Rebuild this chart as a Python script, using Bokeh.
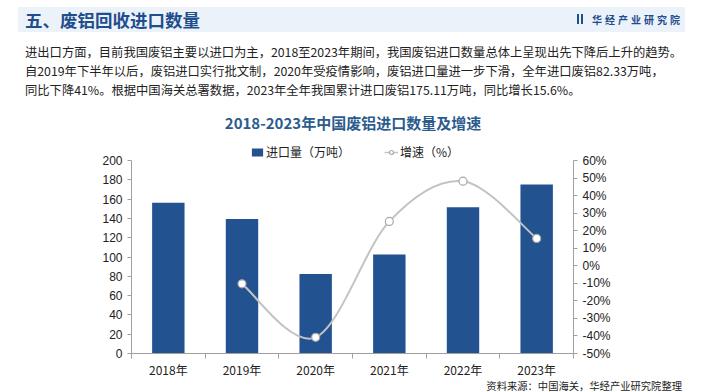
from bokeh.plotting import figure
from bokeh.layouts import column
from bokeh.models import Range1d, LinearAxis, FixedTicker, Legend, LegendItem, Div
from bokeh.embed import file_html
from bokeh.resources import INLINE

# ---------------- data ----------------
years = ["2018年", "2019年", "2020年", "2021年", "2022年", "2023年"]
imports = [156.3, 139.5, 82.33, 102.5, 151.5, 175.11]
growth_years = ["2019年", "2020年", "2021年", "2022年", "2023年"]
growth = [-10.3, -40.8, 25.3, 48.2, 15.6]
left_ticks = [0, 20, 40, 60, 80, 100, 120, 140, 160, 180, 200]
right_ticks = [-50, -40, -30, -20, -10, 0, 10, 20, 30, 40, 50, 60]

header_title = "五、废铝回收进口数量"
logo_text = "华经产业研究院"
paragraph = [
    "进出口方面，目前我国废铝主要以进口为主，2018至2023年期间，我国废铝进口数量总体上呈现出先下降后上升的趋势。",
    "自2019年下半年以后，废铝进口实行批文制，2020年受疫情影响，废铝进口量进一步下滑，全年进口废铝82.33万吨，",
    "同比下降41%。根据中国海关总署数据，2023年全年我国累计进口废铝175.11万吨，同比增长15.6%。",
]
chart_title = "2018-2023年中国废铝进口数量及增速"
legend_labels = ["进口量（万吨）", "增速（%）"]
source_note = "资料来源：中国海关，华经产业研究院整理"

# ---------------- styles ----------------
CJK = "Noto Sans CJK SC"
LAT = "Liberation Sans"
BAR = "#22528f"
LINE = "#c3c3c3"
AXIS = "#a0a0a0"
TXT = "#222222"
DARKBLUE = "#1f4e8d"

W = 705
TOP_H = 142            # header block: window y 0..142
FOOT_Y = 380           # footer block: window y 380..392
FOOT_H = 12
CH_H = FOOT_Y - TOP_H  # chart figure height (window y 142..380)
FL, FR, FT, FB = 131, 573, 160, 353   # axis extents (window px)


def span(text, x, y, size, color, bold=False, align="left", extra=""):
    if align == "left":
        tx = "translate(0,-50%)"
    elif align == "center":
        tx = "translate(-50%,-50%)"
    else:
        tx = "translate(-100%,-50%)"
    return (f'<div style="position:absolute;left:{x}px;top:{y}px;transform:{tx};'
            f'font-family:\'{CJK}\';font-size:{size}px;line-height:1;white-space:nowrap;'
            f'color:{color};font-weight:{"bold" if bold else "normal"};{extra}">{text}</div>')


def box(x0, y0, x1, y1, color):
    return (f'<div style="position:absolute;left:{x0}px;top:{y0}px;width:{x1 - x0}px;'
            f'height:{y1 - y0}px;background:{color};"></div>')


# ---------------- header block ----------------
parts = [box(18, 7, 685, 32, "#ecf2fa"),
         box(577, 14, 579.4, 24, DARKBLUE), box(580.6, 14, 583, 24, DARKBLUE),
         span(header_title, 25, 20, 17.5, DARKBLUE, bold=True),
         span(logo_text, 592, 19.5, 10, DARKBLUE, bold=True, extra="letter-spacing:3px;")]
for i, line in enumerate(paragraph):
    parts.append(span(line, 25, 52 + i * 19, 12.3, TXT))
parts.append(span(chart_title, 353, 122, 15, "#2c5b8e", bold=True, align="center"))
header = Div(text=f'<div style="position:relative;width:{W}px;height:{TOP_H}px;overflow:hidden;">'
                  + "".join(parts) + "</div>",
             width=W, height=TOP_H, margin=0)

# ---------------- chart figure ----------------
# The frame reaches up to the top of the figure so that the legend sits inside it;
# the axes are bounded to their tick ranges.
stretch = (FB - TOP_H) / (FB - FT)
y_top = left_ticks[0] + (left_ticks[-1] - left_ticks[0]) * stretch
r_top = right_ticks[0] + (right_ticks[-1] - right_ticks[0]) * stretch

p = figure(width=W, height=CH_H, output_backend="svg", toolbar_location=None,
           x_range=Range1d(0, len(years)), y_range=Range1d(left_ticks[0], y_top),
           min_border_left=FL, min_border_right=W - FR,
           min_border_top=0, min_border_bottom=FOOT_Y - FB,
           outline_line_color=None, background_fill_color="white",
           border_fill_color="white", margin=0)
p.grid.visible = False

centers = [i + 0.5 for i in range(len(years))]
bars = p.vbar(x=centers, top=imports, width=0.44, fill_color=BAR, line_color=None)

p.extra_y_ranges = {"pct": Range1d(right_ticks[0], r_top)}

# smooth growth line: Catmull-Rom style bezier through the data points
gx = [years.index(y) + 0.5 for y in growth_years]
n = len(gx)
x0, y0, x1, y1, cx0, cy0, cx1, cy1 = [], [], [], [], [], [], [], []
for i in range(n - 1):
    a = max(i - 1, 0)
    d = min(i + 2, n - 1)
    x0.append(gx[i]); y0.append(growth[i])
    x1.append(gx[i + 1]); y1.append(growth[i + 1])
    cx0.append(gx[i] + (gx[i + 1] - gx[a]) / 6)
    cy0.append(growth[i] + (growth[i + 1] - growth[a]) / 6)
    cx1.append(gx[i + 1] - (gx[d] - gx[i]) / 6)
    cy1.append(growth[i + 1] - (growth[d] - growth[i]) / 6)
p.bezier(x0=x0, y0=y0, x1=x1, y1=y1, cx0=cx0, cy0=cy0, cx1=cx1, cy1=cy1,
         line_color=LINE, line_width=2, y_range_name="pct")
pts = p.scatter(gx, growth, size=8, fill_color="white", line_color="#a8a8a8",
                line_width=1.2, y_range_name="pct")

# legend proxy for the line part (single point -> draws nothing on the chart)
dl = p.line(x=gx[:1], y=growth[:1], line_color=LINE, line_width=1.5,
            y_range_name="pct")

# axes
xa = p.xaxis[0]
xa.ticker = FixedTicker(ticks=centers, minor_ticks=list(range(len(years) + 1)))
xa.major_label_overrides = {c: y for c, y in zip(centers, years)}
xa.major_tick_line_color = None
xa.major_tick_in = 0
xa.major_tick_out = 0
xa.minor_tick_in = 0
xa.minor_tick_out = 5
xa.minor_tick_line_color = AXIS
xa.axis_line_color = AXIS
xa.major_label_standoff = 2
xa.major_label_text_font = CJK
xa.major_label_text_font_size = "12px"
xa.major_label_text_color = TXT

ya = p.yaxis[0]
ya.ticker = FixedTicker(ticks=left_ticks)
ya.bounds = (left_ticks[0], left_ticks[-1])
ya.major_tick_in = 0
ya.major_tick_out = 4
ya.minor_tick_line_color = None
ya.major_tick_line_color = AXIS
ya.axis_line_color = AXIS
ya.major_label_standoff = 5
ya.major_label_text_font = LAT
ya.major_label_text_font_size = "12px"
ya.major_label_text_color = TXT

ra = LinearAxis(y_range_name="pct", ticker=FixedTicker(ticks=right_ticks),
                bounds=(right_ticks[0], right_ticks[-1]),
                major_label_overrides={t: f"{t}%" for t in right_ticks})
ra.major_tick_in = 0
ra.major_tick_out = 4
ra.minor_tick_line_color = None
ra.major_tick_line_color = AXIS
ra.axis_line_color = AXIS
ra.major_label_standoff = 5
ra.major_label_text_font = LAT
ra.major_label_text_font_size = "12px"
ra.major_label_text_color = TXT
p.add_layout(ra, "right")

legend = Legend(items=[LegendItem(label=legend_labels[0], renderers=[bars]),
                       LegendItem(label=legend_labels[1], renderers=[dl, pts])],
                orientation="horizontal", location=(250 - FL, FB - 160),
                glyph_width=14, glyph_height=10, label_height=15,
                label_standoff=2, spacing=34,
                padding=0, margin=0, border_line_color=None,
                background_fill_alpha=0, label_text_font=CJK,
                label_text_font_size="12px", label_text_color=TXT)
p.add_layout(legend, "center")

# ---------------- footer block ----------------
footer = Div(text=f'<div style="position:relative;width:{W}px;height:{FOOT_H}px;overflow:hidden;">'
                  + span(source_note, 682, 5.5, 10.3, TXT, align="right") + "</div>",
             width=W, height=FOOT_H, margin=0)

layout = column(header, p, footer, spacing=0, margin=0)
open("out.html", "w").write(file_html(layout, INLINE))
